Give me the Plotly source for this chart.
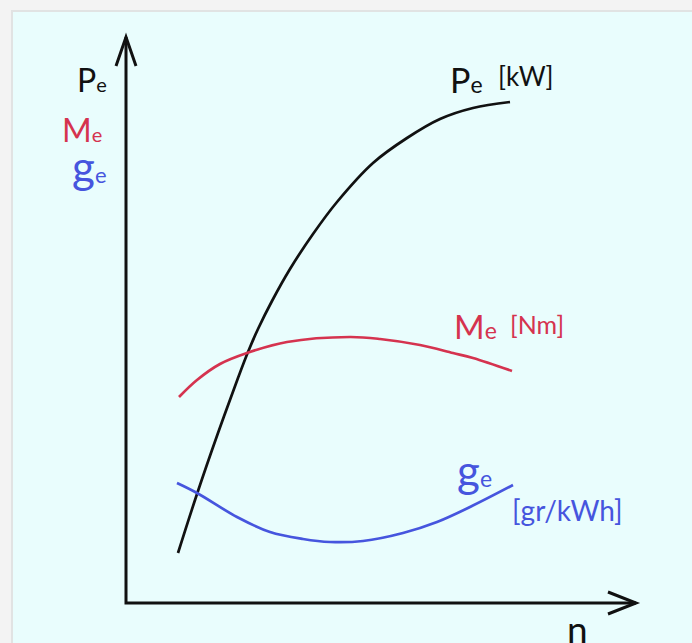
import plotly.graph_objects as go

# engine characteristic sketch: values (arbitrary units)
n_pe = [52, 71, 92, 112, 122, 132, 146, 164, 187, 211, 247, 281, 314, 347, 384]
pe = [50, 109, 170, 225, 251, 274, 302, 334, 369, 401, 440, 465, 484, 495, 501]

n_me = [53, 71, 94, 121, 161, 224, 254, 294, 327, 347, 386]
me = [206, 223, 239, 250, 261, 266, 264, 258, 250, 245, 232]

n_ge = [51, 71, 111, 144, 177, 204, 237, 277, 311, 344, 387]
ge = [120, 110, 86, 71, 64, 61, 62, 70, 81, 96, 118]

BLACK = "#111111"
RED = "#d5334f"
BLUE = "#4655de"

fig = go.Figure()
fig.add_trace(go.Scatter(x=n_pe, y=pe, mode="lines", line=dict(color=BLACK, width=2.7, shape="spline")))
fig.add_trace(go.Scatter(x=n_me, y=me, mode="lines", line=dict(color=RED, width=2.7, shape="spline")))
fig.add_trace(go.Scatter(x=n_ge, y=ge, mode="lines", line=dict(color=BLUE, width=2.7, shape="spline")))

FONT = "Lato"


def sub(big, small, size_big, size_small):
    return f"<span style='font-size:{size_big}px'>{big}</span><span style='font-size:{size_small}px'>{small}</span>"


labels = [
    # text, x, y, color, size
    (sub("P", "e", 32, 20), -51, 524, BLACK, 32),
    (sub("M", "e", 32, 20), -66, 474, RED, 32),
    (sub("g", "e", 44, 22), -56, 437, BLUE, 44),
    (sub("P", "e", 34, 23), 322, 524, BLACK, 34),
    ("[kW]", 370, 527, BLACK, 26),
    (sub("M", "e", 33, 23), 326, 277, RED, 33),
    ("[Nm]", 382, 279, RED, 25),
    (sub("g", "e", 44, 23), 329, 133, BLUE, 44),
    ("[gr/kWh]", 384, 93, BLUE, 28),
]
for text, x, y, color, size in labels:
    fig.add_annotation(
        x=x, y=y, text=text, showarrow=False, xanchor="left", yanchor="middle",
        font=dict(family=FONT, size=size, color=color),
    )
# the "n" sits right on the lower edge of the panel, as in the original
fig.add_annotation(
    x=439, y=-25, text="n", showarrow=False, xanchor="left", yanchor="middle", height=32,
    font=dict(family=FONT, size=37, color=BLACK),
)

# panel background and axes with open arrow heads
fig.add_shape(type="rect", xref="paper", yref="paper", x0=12 / 692, x1=1.01, y0=-0.01, y1=1 - 11 / 643,
              fillcolor="#e9fdfd", line=dict(color="#e1e3e3", width=2), layer="below")
axis_line = dict(color=BLACK, width=3)
fig.add_shape(type="path", path="M 0,566 L 0,0 L 510,0", line=axis_line)
fig.add_shape(type="path", path="M -10,537 L 0,566 L 10,537", line=axis_line)
fig.add_shape(type="path", path="M 482,11 L 510,0 L 482,-11", line=axis_line)

fig.update_xaxes(range=[-126, 566], visible=False)
fig.update_yaxes(range=[-40, 603], visible=False)
fig.update_layout(
    width=692, height=643, margin=dict(l=0, r=0, t=0, b=0),
    paper_bgcolor="#f3f3f3", plot_bgcolor="rgba(0,0,0,0)", showlegend=False,
)

# drop the browser's default page margin so the figure fills the window
fig.write_html("out.html", config={"displayModeBar": False},
               post_script="document.body.style.margin = '0';")
